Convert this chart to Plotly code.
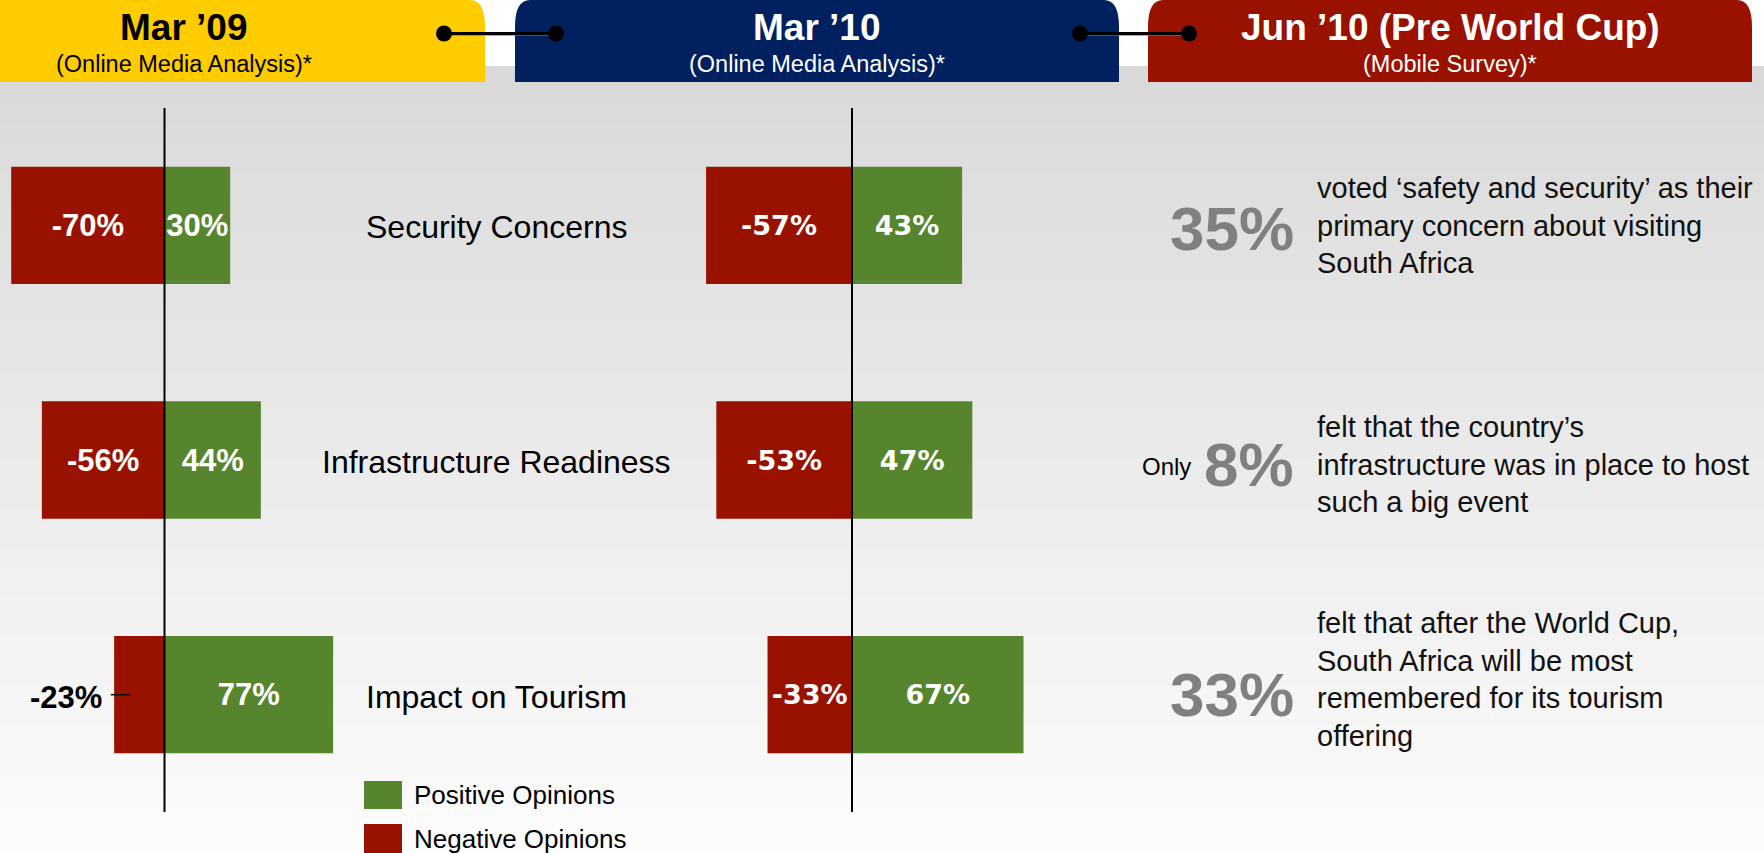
import plotly.graph_objects as go

# ---------------- data ----------------
categories = ["Security Concerns", "Infrastructure Readiness", "Impact on Tourism"]
neg_mar09 = [-70, -56, -23]
pos_mar09 = [30, 44, 77]
neg_mar10 = [-57, -53, -33]
pos_mar10 = [43, 47, 67]

periods = ["Mar \u201909", "Mar \u201910", "Jun \u201910 (Pre World Cup)"]
period_sources = ["(Online Media Analysis)*", "(Online Media Analysis)*", "(Mobile Survey)*"]

survey_stats = ["35%", "8%", "33%"]
survey_prefix = ["", "Only", ""]
survey_text = [
    "voted \u2018safety and security\u2019 as their<br>primary concern about visiting<br>South Africa",
    "felt that the country\u2019s<br>infrastructure was in place to host<br>such a big event",
    "felt that after the World Cup,<br>South Africa will be most<br>remembered for its tourism<br>offering",
]
series_names = ["Positive Opinions", "Negative Opinions"]

# ---------------- style ----------------
W, H = 1764, 853
GREEN = "#57852D"
RED = "#991200"
YELLOW = "#FFCC00"
NAVY = "#002060"
TABRED = "#991200"
FONT = "Liberation Sans"


def PX(x):
    return x / W


def PY(y):
    return 1 - y / H


def pct(v):
    return [f"{x}%" for x in v]


# inside labels; the small Tourism bar of Mar '09 gets its label outside (annotation below)
neg09_inside = [f"{x}%" if x <= -30 else "" for x in neg_mar09]

fig = go.Figure()

# Mar '09 panel
fig.add_trace(go.Bar(
    y=categories, x=neg_mar09, orientation="h", width=0.5, marker_color=RED,
    marker_line_width=0, name=series_names[1], xaxis="x", yaxis="y",
    text=neg09_inside, textposition="inside",
    insidetextanchor="middle", textangle=0, constraintext="none",
    textfont=dict(family=FONT, size=31, weight="bold", color="white"),
    showlegend=False, hoverinfo="skip"))
fig.add_trace(go.Bar(
    y=categories, x=pos_mar09, orientation="h", width=0.5, marker_color=GREEN,
    marker_line_width=0, name=series_names[0], xaxis="x", yaxis="y",
    text=pct(pos_mar09), textposition="inside", insidetextanchor="middle",
    textangle=0, constraintext="none",
    textfont=dict(family=FONT, size=31, weight="bold", color="white"),
    showlegend=False, hoverinfo="skip"))

# Mar '10 panel
fig.add_trace(go.Bar(
    y=categories, x=neg_mar10, orientation="h", width=0.5, marker_color=RED,
    marker_line_width=0, name=series_names[1], xaxis="x2", yaxis="y",
    text=pct(neg_mar10), textposition="inside", insidetextanchor="middle",
    textangle=0, constraintext="none",
    textfont=dict(family="DejaVu Sans", size=27, weight="bold", color="white"),
    showlegend=False, hoverinfo="skip"))
fig.add_trace(go.Bar(
    y=categories, x=pos_mar10, orientation="h", width=0.5, marker_color=GREEN,
    marker_line_width=0, name=series_names[0], xaxis="x2", yaxis="y",
    text=pct(pos_mar10), textposition="inside", insidetextanchor="middle",
    textangle=0, constraintext="none",
    textfont=dict(family="DejaVu Sans", size=27, weight="bold", color="white"),
    showlegend=False, hoverinfo="skip"))

# axes: panel 1 zero at ~164.5px, 2.19 px per %; panel 2 zero at ~852px, 2.56 px per %
x1_dom = (0, 485)
x2_dom = (515, 1119)
z1, s1 = 164.5, 2.19
z2, s2 = 852.0, 2.56
hidden = dict(showgrid=False, zeroline=False, showline=False, showticklabels=False, ticks="", fixedrange=True)
fig.update_layout(
    xaxis=dict(domain=[PX(x1_dom[0]), PX(x1_dom[1])],
               range=[(x1_dom[0] - z1) / s1, (x1_dom[1] - z1) / s1], anchor="y", **hidden),
    xaxis2=dict(domain=[PX(x2_dom[0]), PX(x2_dom[1])],
                range=[(x2_dom[0] - z2) / s2, (x2_dom[1] - z2) / s2], anchor="y", **hidden),
    yaxis=dict(domain=[PY(812), PY(108)], range=[2.5, -0.5], type="category",
               categoryorder="array", categoryarray=categories, **hidden),
    barmode="relative",
)

shapes = []
# background gradient
n_bands = 80
y_top, y_bot = 66, H
for i in range(n_bands):
    ya = y_top + (y_bot - y_top) * i / n_bands
    yb = y_top + (y_bot - y_top) * (i + 1) / n_bands + 0.5
    t = i / (n_bands - 1)
    c = int(round(217 + (252 - 217) * t))
    shapes.append(dict(type="rect", xref="paper", yref="paper", x0=0, x1=1,
                       y0=PY(yb), y1=PY(ya), fillcolor=f"rgb({c},{c},{c})",
                       line_width=0, layer="below"))


def tab_path(x0, x1, y1, r_x=15, r_y=27, left_round=True, right_round=True):
    p = f"M {PX(x0)},{PY(y1)} "
    if left_round:
        p += f"L {PX(x0)},{PY(r_y)} Q {PX(x0)},{PY(0)} {PX(x0 + r_x)},{PY(0)} "
    else:
        p += f"L {PX(x0)},{PY(0)} "
    if right_round:
        p += f"L {PX(x1 - r_x)},{PY(0)} Q {PX(x1)},{PY(0)} {PX(x1)},{PY(r_y)} "
    else:
        p += f"L {PX(x1)},{PY(0)} "
    p += f"L {PX(x1)},{PY(y1)} Z"
    return p


tabs = [(0, 485, YELLOW, False, True), (515, 1119, NAVY, True, True), (1148, 1752, TABRED, True, True)]
for x0, x1, col, lr, rr in tabs:
    shapes.append(dict(type="path", xref="paper", yref="paper", path=tab_path(x0, x1, 82, left_round=lr, right_round=rr),
                       fillcolor=col, line_width=0, layer="below"))

# connectors between tabs
for xa, xb in [(444, 556), (1080, 1189)]:
    shapes.append(dict(type="line", xref="paper", yref="paper", x0=PX(xa), x1=PX(xb),
                       y0=PY(35), y1=PY(35), line=dict(color="rgba(120,120,120,0.6)", width=2), layer="above"))
    shapes.append(dict(type="line", xref="paper", yref="paper", x0=PX(xa), x1=PX(xb),
                       y0=PY(33.5), y1=PY(33.5), line=dict(color="black", width=3), layer="above"))
    for xc in (xa, xb):
        shapes.append(dict(type="circle", xref="paper", yref="paper",
                           x0=PX(xc - 8), x1=PX(xc + 8), y0=PY(33.5 + 8), y1=PY(33.5 - 8),
                           fillcolor="black", line_width=0, layer="above"))

# vertical zero lines
for xr in ("x", "x2"):
    shapes.append(dict(type="line", xref=xr, yref="paper", x0=0, x1=0, y0=PY(812), y1=PY(108),
                       line=dict(color="black", width=2), layer="above"))

# small leader tick for outside label
shapes.append(dict(type="line", xref="x", yref="y", x0=neg_mar09[2] - 1.5, x1=neg_mar09[2] + 7.3,
                   y0=2, y1=2, line=dict(color="black", width=1.5), layer="above"))

# legend squares
shapes.append(dict(type="rect", xref="paper", yref="paper", x0=PX(364), x1=PX(402), y0=PY(809), y1=PY(781),
                   fillcolor=GREEN, line_width=0))
shapes.append(dict(type="rect", xref="paper", yref="paper", x0=PX(364), x1=PX(402), y0=PY(853), y1=PY(824),
                   fillcolor=RED, line_width=0))

annotations = []
# outside label of the short Tourism bar (Mar '09)
for v, c in zip(neg_mar09, categories):
    if v > -30:
        annotations.append(dict(xref="x", yref="y", x=v, y=c, text=f"<b>{v}%</b>", showarrow=False,
                                xanchor="right", yanchor="middle", xshift=-10, yshift=-3,
                                font=dict(family=FONT, size=31, color="black")))

# header titles
title_x = [184, 817, 1450]
title_col = ["black", "white", "white"]
for i in range(3):
    annotations.append(dict(xref="paper", yref="paper", x=PX(title_x[i]), y=PY(27), text=f"<b>{periods[i]}</b>",
                            showarrow=False, xanchor="center", yanchor="middle",
                            font=dict(family=FONT, size=37, color=title_col[i])))
    annotations.append(dict(xref="paper", yref="paper", x=PX(title_x[i]), y=PY(64), text=period_sources[i],
                            showarrow=False, xanchor="center", yanchor="middle",
                            font=dict(family=FONT, size=23.5, color=title_col[i])))

# category labels
for c in categories:
    annotations.append(dict(xref="paper", yref="y", x=PX(496.5), y=c, text=c, showarrow=False,
                            xanchor="center", yanchor="middle", yshift=-2,
                            font=dict(family=FONT, size=32, color="black")))

# right panel
stat_y = [229, 464, 694]
block_y = [226, 464, 679]
for i in range(3):
    annotations.append(dict(xref="paper", yref="paper", x=PX(1296), y=PY(stat_y[i]), text=f"<b>{survey_stats[i]}</b>",
                            showarrow=False, xanchor="right", yanchor="middle",
                            font=dict(family=FONT, size=62, color="#808080")))
    if survey_prefix[i]:
        annotations.append(dict(xref="paper", yref="paper", x=PX(1193), y=PY(stat_y[i] + 2), text=survey_prefix[i],
                                showarrow=False, xanchor="right", yanchor="middle",
                                font=dict(family=FONT, size=24, color="black")))
    annotations.append(dict(xref="paper", yref="paper", x=PX(1315), y=PY(block_y[i]), text=survey_text[i],
                            showarrow=False, xanchor="left", yanchor="middle", align="left",
                            font=dict(family=FONT, size=29, color="#111111")))

# legend labels
for name, yc in zip(series_names, [795, 839]):
    annotations.append(dict(xref="paper", yref="paper", x=PX(412), y=PY(yc), text=name, showarrow=False,
                            xanchor="left", yanchor="middle", font=dict(family=FONT, size=26, color="black")))

fig.update_layout(
    width=W, height=H, margin=dict(l=0, r=0, t=0, b=0),
    paper_bgcolor="white", plot_bgcolor="rgba(0,0,0,0)",
    shapes=shapes, annotations=annotations, showlegend=False,
    font=dict(family=FONT),
)

fig.write_html("out.html", config={"displayModeBar": False},
               post_script="document.body.style.margin='0px';document.body.style.overflow='hidden';")
